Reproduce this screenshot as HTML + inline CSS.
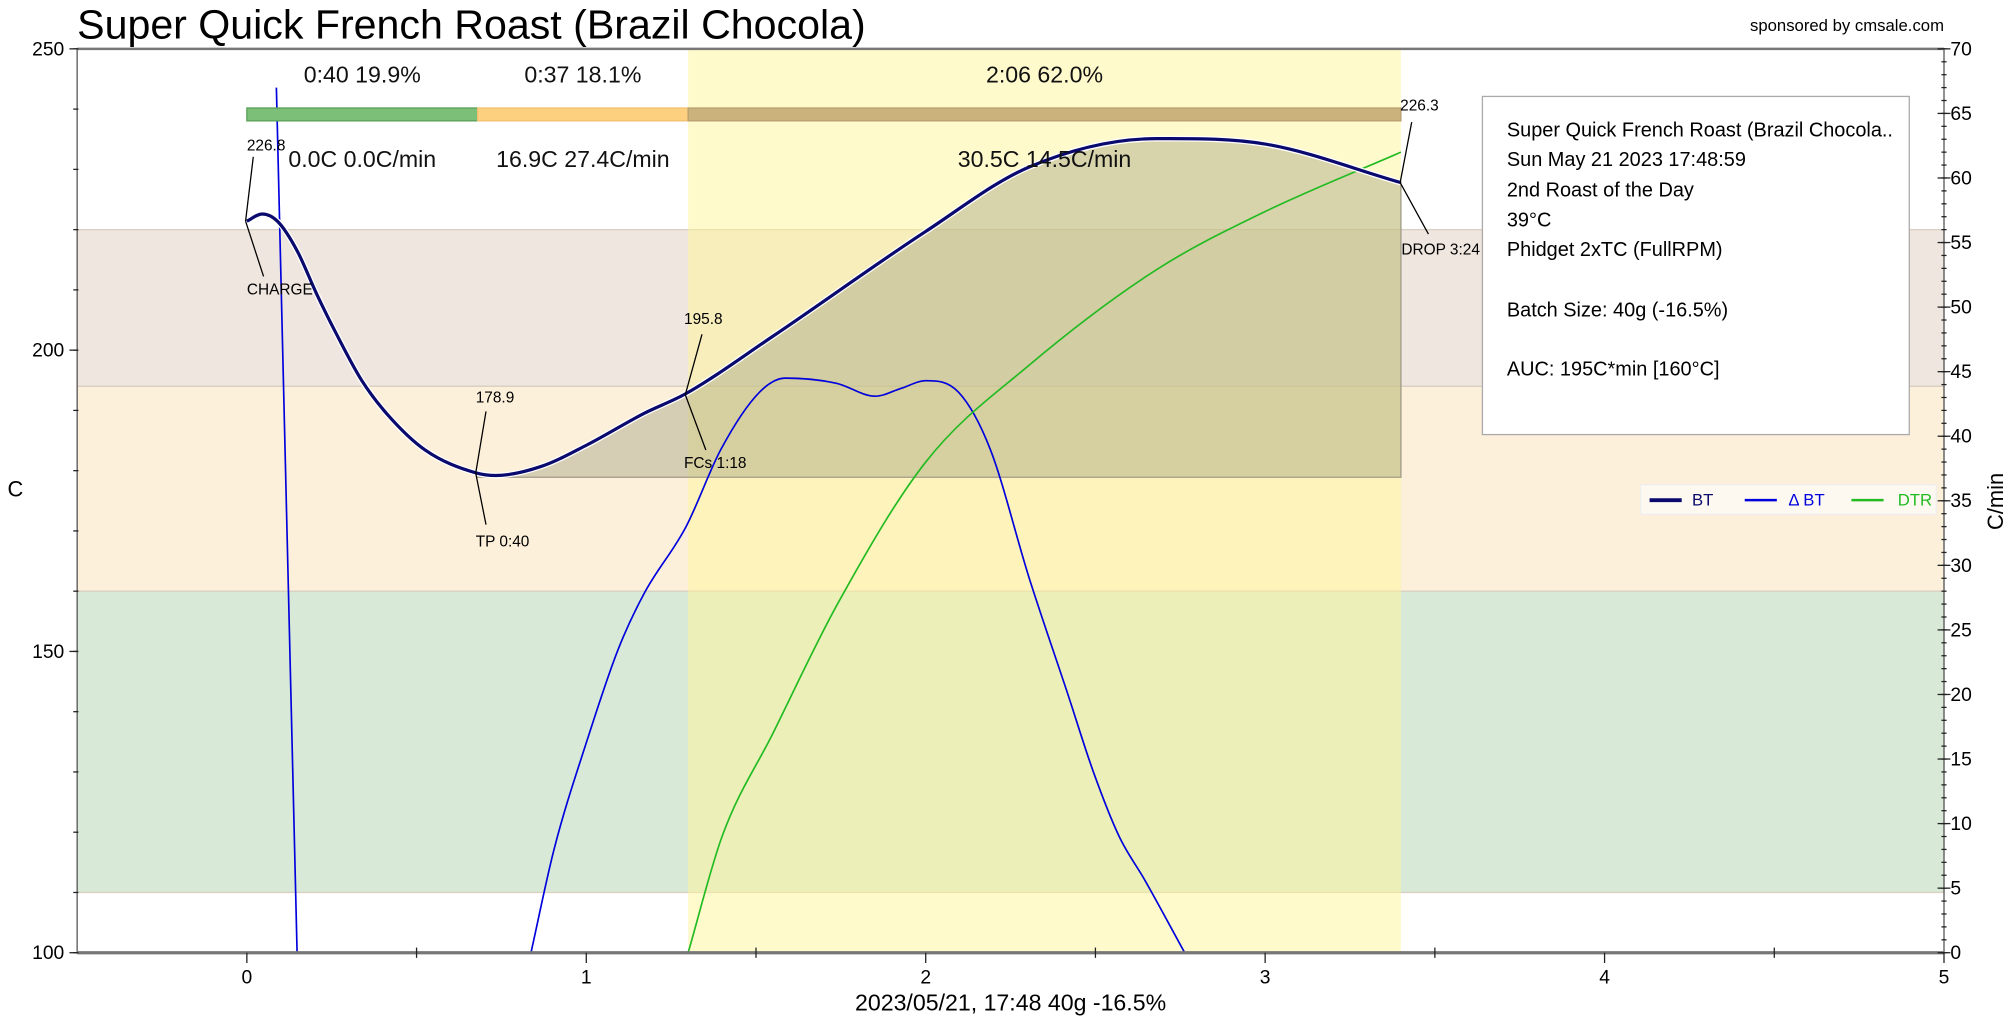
<!DOCTYPE html>
<html><head><meta charset="utf-8"><style>
html,body{margin:0;padding:0;background:#fff;}
svg{display:block;font-family:"Liberation Sans Narrow","Liberation Sans",sans-serif;}
</style></head><body>
<svg id="chart" width="2016" height="1024" viewBox="0 0 1568 796.44" xmlns="http://www.w3.org/2000/svg">
<g id="bg"></g><g id="marks"></g><g id="axes"></g><g id="ann"></g>
</svg>
<script>
// ---- data ----
const btTimes = [0,0.045,0.09,0.148,0.205,0.261,0.337,0.413,0.526,0.677,0.734,0.867,1.003,1.17,1.294,1.547,2.0,2.305,2.68,3.0,3.4];
const btTemps = [221.4,222.6,221.4,216.5,209.4,203,195.1,189.4,183.4,179.6,179.2,180.7,184.3,189.5,192.8,202.2,219.7,230.4,235.1,234.2,227.8];
const dbt1Times = [0.087,0.148];
const dbt1Vals = [67,0];
const dbt2Times = [0.837,0.905,1.003,1.094,1.17,1.294,1.397,1.51,1.586,1.737,1.851,1.927,2.0,2.097,2.19,2.305,2.419,2.494,2.57,2.646,2.763];
const dbt2Vals = [0,8,16.5,23.5,27.8,33,39,43.4,44.5,44.1,43.1,43.7,44.3,43.4,39,29,20,14,9,5.6,0];
const dtrTimes = [1.3,1.4,1.55,1.74,2.0,2.3,2.68,3.0,3.4];
const dtrVals = [0,9,17,27,38,45.4,52.9,57.4,62];
const xTicks = [0,1,2,3,4,5];
const yTicks = [100,150,200,250];
const y2Ticks = [0,5,10,15,20,25,30,35,40,45,50,55,60,65,70];
const bands = [[194,220,'#efe6df'],[160,194,'#fdf0da'],[110,160,'#d8ead7']];
const phaseStarts = [0,0.68,1.3];
const phaseEnds = [0.68,1.3,3.4];
const phaseLabels = ['0:40  19.9%','0:37  18.1%','2:06  62.0%'];
const phaseStats = ['0.0C  0.0C/min','16.9C  27.4C/min','30.5C  14.5C/min'];
const aucBase = 178.9;

// ---- scales ----
const L=60,R=1512,T=38,B=741;
const X=t=>L+(t+0.5)/5.5*(R-L);
const Y=v=>B-(v-100)/150*(B-T);
const Y2=v=>B-v/70*(B-T);
const NS='http://www.w3.org/2000/svg';
function mk(tag,attrs,parent){const e=document.createElementNS(NS,tag);for(const k in attrs)e.setAttribute(k,attrs[k]);document.getElementById(parent).appendChild(e);return e;}
function smooth(pts){
  const n=pts.length;const m=[];
  for(let i=0;i<n;i++){
    if(i===0)m.push((pts[1][1]-pts[0][1])/(pts[1][0]-pts[0][0]));
    else if(i===n-1)m.push((pts[n-1][1]-pts[n-2][1])/(pts[n-1][0]-pts[n-2][0]));
    else{const a=(pts[i][1]-pts[i-1][1])/(pts[i][0]-pts[i-1][0]),b=(pts[i+1][1]-pts[i][1])/(pts[i+1][0]-pts[i][0]);m.push(a*b<=0?0:(a+b)/2);}
  }
  let d='M'+pts[0][0]+','+pts[0][1];
  for(let i=0;i<n-1;i++){const dx=(pts[i+1][0]-pts[i][0])/3;
    d+=' C'+(pts[i][0]+dx)+','+(pts[i][1]+m[i]*dx)+' '+(pts[i+1][0]-dx)+','+(pts[i+1][1]-m[i+1]*dx)+' '+pts[i+1][0]+','+pts[i+1][1];}
  return d;}

// bands
bands.forEach(b=>{const r=mk('rect',{x:L,y:Y(b[1]),width:R-L,height:Y(b[0])-Y(b[1]),fill:b[2],stroke:'#d8cfc0','stroke-width':1},'bg');

});
let yb=mk('rect',{x:X(1.3),y:T,width:X(3.4)-X(1.3),height:B-T,fill:'#fff59a','fill-opacity':0.5},'bg');



// AUC fill
const btPts=btTimes.map((t,i)=>[X(t),Y(btTemps[i])]);
const btD=smooth(btPts);
{const pts=[];for(let i=0;i<btTimes.length;i++){if(btTimes[i]>=0.677)pts.push(btPts[i]);}
const d=smooth(pts)+' L'+X(3.4)+','+Y(aucBase)+' L'+X(0.677)+','+Y(aucBase)+' Z';
const a=mk('path',{d:d,fill:'#9c9a7a','fill-opacity':0.4,stroke:'#a09a88','stroke-width':1},'marks');

}

// series
const cp=mk('clipPath',{id:'clip'},'marks');const cr=document.createElementNS(NS,'rect');cr.setAttribute('x',L);cr.setAttribute('y',T);cr.setAttribute('width',R-L);cr.setAttribute('height',B-T);cp.appendChild(cr);
let s=mk('path',{d:'M'+X(dbt1Times[0])+','+Y2(dbt1Vals[0])+' L'+X(dbt1Times[1])+','+Y2(dbt1Vals[1]),fill:'none',stroke:'#0000dd','stroke-width':1.3},'marks');


s=mk('path',{d:smooth(dbt2Times.map((t,i)=>[X(t),Y2(dbt2Vals[i])])),fill:'none',stroke:'#0000dd','stroke-width':1.3,'clip-path':'url(#clip)'},'marks');


s=mk('path',{d:smooth(dtrTimes.map((t,i)=>[X(t),Y2(dtrVals[i])])),fill:'none',stroke:'#22bb22','stroke-width':1.3},'marks');


s=mk('path',{d:btD,fill:'none',stroke:'#fff','stroke-width':4.5},'marks');


s=mk('path',{d:btD,fill:'none',stroke:'#0a0a6e','stroke-width':2.5},'marks');



// phase bars + labels
const pcol=['#7bbf78','#fcd07e','#cbb27c'],pst=['#58a058','#f2c070','#b8a070'];
phaseStarts.forEach((st,i)=>{const r=mk('rect',{x:X(st),y:84,width:X(phaseEnds[i])-X(st),height:10,fill:pcol[i],stroke:pst[i]},'marks');


const cx=(X(st)+X(phaseEnds[i]))/2;
let t=mk('text',{x:cx,y:64,'font-size':18,'text-anchor':'middle',fill:'#111'},'ann');t.textContent=phaseLabels[i];


t=mk('text',{x:cx,y:130,'font-size':18,'text-anchor':'middle',fill:'#111'},'ann');t.textContent=phaseStats[i];

});

// axes frame
let f=mk('rect',{x:L,y:T,width:R-L,height:B-T,fill:'none',stroke:'#555','stroke-width':1},'axes');


mk('line',{x1:L,y1:T,x2:R,y2:T,stroke:'#777','stroke-width':2},'axes');
mk('line',{x1:L,y1:B,x2:R,y2:B,stroke:'#777','stroke-width':2.5},'axes');
xTicks.forEach(t=>{mk('line',{x1:X(t),y1:B,x2:X(t),y2:B+8,stroke:'#222'},'axes');
const tx=mk('text',{x:X(t),y:B+24,'font-size':15,'text-anchor':'middle'},'axes');tx.textContent=t;


if(t<5)mk('line',{x1:X(t+0.5),y1:B-4,x2:X(t+0.5),y2:B+4,stroke:'#222'},'axes');});
for(let v=100;v<=250;v+=10)mk('line',{x1:L-3,y1:Y(v),x2:L+1,y2:Y(v),stroke:'#222'},'axes');
yTicks.forEach(v=>{mk('line',{x1:L-6,y1:Y(v),x2:L,y2:Y(v),stroke:'#222'},'axes');
const tx=mk('text',{x:L-10,y:Y(v)+5,'font-size':15,'text-anchor':'end'},'axes');tx.textContent=v;

});
for(let v=0;v<=70;v++)mk('line',{x1:R-2,y1:Y2(v),x2:R+2,y2:Y2(v),stroke:'#222'},'axes');
y2Ticks.forEach(v=>{mk('line',{x1:R-5,y1:Y2(v),x2:R+5,y2:Y2(v),stroke:'#222'},'axes');
const tx=mk('text',{x:R+5,y:Y2(v)+5,'font-size':15},'axes');tx.textContent=v;

});
</script>
<script>
const G=document.getElementById('ann');
G.insertAdjacentHTML('beforeend',`
<text x="60" y="30" font-size="32">Super Quick French Roast (Brazil Chocola)</text>
<text x="1512" y="24" font-size="13" text-anchor="end">sponsored by cmsale.com</text>
<text x="12" y="386" font-size="17" text-anchor="middle">C</text>
<text transform="translate(1558,390) rotate(-90)" font-size="17" text-anchor="middle">C/min</text>
<text x="786" y="786" font-size="18" text-anchor="middle">2023/05/21, 17:48   40g  -16.5%</text>
<g font-size="12" stroke-width="1">
<line x1="191" y1="172" x2="197" y2="122" stroke="#000"/><text x="192" y="117">226.8</text>
<line x1="191" y1="172" x2="205" y2="215" stroke="#000"/><text x="192" y="229">CHARGE</text>
<line x1="370" y1="368" x2="378" y2="320" stroke="#000"/><text x="370" y="313">178.9</text>
<line x1="370" y1="368" x2="378" y2="408" stroke="#000"/><text x="370" y="425">TP 0:40</text>
<line x1="533" y1="307" x2="546" y2="260" stroke="#000"/><text x="532" y="252">195.8</text>
<line x1="533" y1="307" x2="549" y2="350" stroke="#000"/><text x="532" y="364">FCs 1:18</text>
<line x1="1089" y1="142" x2="1098" y2="95" stroke="#000"/><text x="1089" y="86">226.3</text>
<line x1="1089" y1="142" x2="1111" y2="182" stroke="#000"/><text x="1090" y="198">DROP 3:24</text>
</g>
<g font-size="15.5">
<rect x="1153" y="75" width="332" height="263" fill="#fff" stroke="#aaa"/>
<text x="1172" y="106">Super Quick French Roast (Brazil Chocola..</text>
<text x="1172" y="129">Sun May 21 2023 17:48:59</text>
<text x="1172" y="153">2nd Roast of the Day</text>
<text x="1172" y="176">39°C</text>
<text x="1172" y="199">Phidget 2xTC (FullRPM)</text>
<text x="1172" y="246">Batch Size: 40g (-16.5%)</text>
<text x="1172" y="292">AUC: 195C*min [160°C]</text>
</g>
<g font-size="13">
<rect x="1276" y="377" width="230" height="23" fill="#fff" fill-opacity="0.6" stroke="#eee"/>
<line x1="1283" y1="389" x2="1308" y2="389" stroke="#0a0a6e" stroke-width="3"/><text x="1316" y="393" fill="#0a0a6e">BT</text>
<line x1="1357" y1="389" x2="1382" y2="389" stroke="#0000dd" stroke-width="2"/><text x="1391" y="393" fill="#0000dd">Δ BT</text>
<line x1="1440" y1="389" x2="1465" y2="389" stroke="#22bb22" stroke-width="2"/><text x="1476" y="393" fill="#22bb22">DTR</text>
</g>`);
</script>
</body></html>
